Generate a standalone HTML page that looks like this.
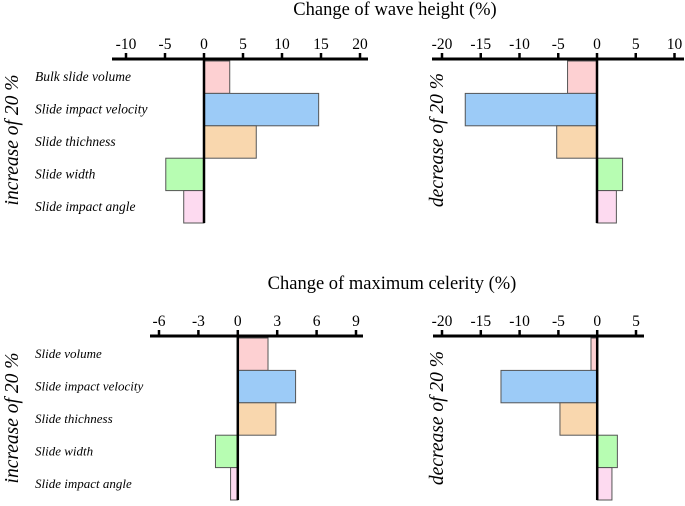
<!DOCTYPE html>
<html><head><meta charset="utf-8"><style>
html,body{margin:0;padding:0;background:#fff;}
svg{display:block;font-family:"Liberation Serif",serif;}
</style></head><body>
<svg id="c" width="685" height="506" viewBox="0 0 685 506" xmlns="http://www.w3.org/2000/svg">
<text x="395" y="15" text-anchor="middle" font-size="18.5">Change of wave height (%)</text>
<text x="392" y="289" text-anchor="middle" font-size="18.5">Change of maximum celerity (%)</text>
<text transform="translate(18,140) rotate(-90)" text-anchor="middle" font-size="19.5" font-style="italic">increase of 20 %</text>
<text transform="translate(443,140) rotate(-90)" text-anchor="middle" font-size="19.5" font-style="italic">decrease of 20 %</text>
<text transform="translate(18,418) rotate(-90)" text-anchor="middle" font-size="19.5" font-style="italic">increase of 20 %</text>
<text transform="translate(443,418) rotate(-90)" text-anchor="middle" font-size="19.5" font-style="italic">decrease of 20 %</text>
</svg>
<script>
const topCategories = ["Bulk slide volume","Slide impact velocity","Slide thichness","Slide width","Slide impact angle"];
const bottomCategories = ["Slide volume","Slide impact velocity","Slide thichness","Slide width","Slide impact angle"];
const waveIncrease = [3.3, 14.7, 6.7, -4.9, -2.6];
const waveDecrease = [-3.8, -17.0, -5.2, 3.3, 2.5];
const celerityIncrease = [2.3, 4.4, 2.9, -1.7, -0.55];
const celerityDecrease = [-0.8, -12.4, -4.8, 2.6, 1.9];
const ticksWaveInc = [-10, -5, 0, 5, 10, 15, 20];
const ticksWaveDec = [-20, -15, -10, -5, 0, 5, 10];
const ticksCelInc = [-6, -3, 0, 3, 6, 9];
const ticksCelDec = [-20, -15, -10, -5, 0, 5];
const colors = ["#fdd0d2","#9ccbf7","#f9d7ae","#b7fdb2","#fddaf0"];

const NS = "http://www.w3.org/2000/svg";
const svg = document.getElementById("c");
function mk(tag, attrs, parent) {
  const e = document.createElementNS(NS, tag);
  for (const k in attrs) e.setAttribute(k, attrs[k]);
  (parent || svg).appendChild(e);
  return e;
}
function panel(name, cfg, values, ticks, cats) {
  const g = mk("g", {});
  
  
  const x = v => cfg.x0 + (v - cfg.d0) / (cfg.d1 - cfg.d0) * (cfg.x1 - cfg.x0);
  const rowH = (cfg.yb - cfg.yt) / values.length;
  values.forEach((v, i) => {
    const a = x(0), b = x(v);
    const r = mk("rect", {x: Math.min(a, b), y: cfg.yt + i * rowH, width: Math.abs(b - a), height: rowH,
      fill: colors[i], stroke: "#555", "stroke-width": 1}, g);
    
    
    if (cats) {
      const t = mk("text", {x: cfg.lx, y: cfg.yt + i * rowH + rowH / 2 + 4, "font-size": cfg.lfs, "font-style": "italic"}, g);
      t.textContent = cats[i];
      
      
    }
  });
  const ax = mk("line", {x1: cfg.ax0, x2: cfg.ax1, y1: cfg.ya, y2: cfg.ya, stroke: "#000", "stroke-width": 3}, g);
  
  
  const zl = mk("line", {x1: x(0), x2: x(0), y1: cfg.ya, y2: cfg.yb, stroke: "#000", "stroke-width": 2.5}, g);
  
  
  ticks.forEach(t => {
    const tk = mk("line", {x1: x(t), x2: x(t), y1: cfg.ya - 6, y2: cfg.ya, stroke: "#000", "stroke-width": 2.5}, g);
    
    
    const tl = mk("text", {x: x(t), y: cfg.ya - 10, "text-anchor": "middle", "font-size": 15.5}, g);
    tl.textContent = t;
    
    
  });
}
panel("wave-increase-panel", {x0: 204, x1: 360, d0: 0, d1: 20, ax0: 112, ax1: 368, ya: 59, yt: 61, yb: 223, lx: 35, lfs: 13.5}, waveIncrease, ticksWaveInc, topCategories);
panel("wave-decrease-panel", {x0: 442, x1: 597, d0: -20, d1: 0, ax0: 432, ax1: 684, ya: 59, yt: 61, yb: 223}, waveDecrease, ticksWaveDec, null);
panel("celerity-increase-panel", {x0: 159, x1: 356, d0: -6, d1: 9, ax0: 150, ax1: 363, ya: 336, yt: 338, yb: 500, lx: 35, lfs: 13}, celerityIncrease, ticksCelInc, bottomCategories);
panel("celerity-decrease-panel", {x0: 442, x1: 636, d0: -20, d1: 5, ax0: 433, ax1: 644, ya: 336, yt: 338, yb: 500}, celerityDecrease, ticksCelDec, null);
</script>
</body></html>
